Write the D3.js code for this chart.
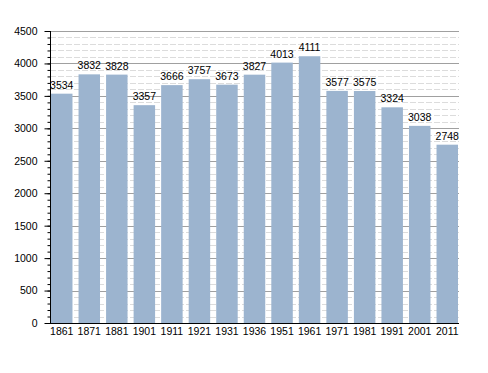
<!DOCTYPE html>
<html>
<head>
<meta charset="utf-8">
<script src="https://cdn.jsdelivr.net/npm/d3@7"></script>
<style>
  body { margin: 0; background: #fff; }
  svg text { font-family: "Liberation Sans", Arial, sans-serif; font-size: 10.5px; fill: #000; }
</style>
</head>
<body>
<div id="chart"></div>
<script>
// census years and population
var years = ["1861", "1871", "1881", "1901", "1911", "1921", "1931", "1936", "1951", "1961", "1971", "1981", "1991", "2001", "2011"];
var population = [3534, 3832, 3828, 3357, 3666, 3757, 3673, 3827, 4013, 4111, 3577, 3575, 3324, 3038, 2748];
var yTicks = [0, 500, 1000, 1500, 2000, 2500, 3000, 3500, 4000, 4500];

var width = 488, height = 373;
var plotLeft = 50, plotRight = 459, plotTop = 31, plotBottom = 323;

var svg = d3.select("#chart").append("svg")
    .attr("width", width)
    .attr("height", height);

var x = d3.scaleBand()
    .domain(years)
    .range([plotLeft + 1, plotRight - 1])
    .paddingInner(0.22)
    .paddingOuter(0);

var y = d3.scaleLinear()
    .domain([0, 4500])
    .range([plotBottom, plotTop]);

// minor grid every 100
svg.append("g").selectAll("line")
    .data(d3.range(100, 4600, 100).filter(function (d) { return d % 500 != 0; }))
    .enter().append("line")
    .attr("x1", plotLeft).attr("x2", plotRight)
    .attr("y1", function (d) { return Math.round(y(d)) + 0.5; })
    .attr("y2", function (d) { return Math.round(y(d)) + 0.5; })
    .attr("stroke", "#dcdcdc")
    .attr("stroke-dasharray", "6,2");

// major grid every 500
svg.append("g").selectAll("line")
    .data(yTicks.slice(1))
    .enter().append("line")
    .attr("x1", plotLeft).attr("x2", plotRight)
    .attr("y1", function (d) { return Math.round(y(d)) + 0.5; })
    .attr("y2", function (d) { return Math.round(y(d)) + 0.5; })
    .attr("stroke", "#a0a0a0");

// bars
svg.append("g").selectAll("rect")
    .data(population)
    .enter().append("rect")
    .attr("x", function (d, i) { return x(years[i]); })
    .attr("width", x.bandwidth())
    .attr("y", function (d) { return y(d); })
    .attr("height", function (d) { return plotBottom - y(d); })
    .attr("fill", "#9cb4cf");

// value labels
svg.append("g").selectAll("text")
    .data(population)
    .enter().append("text")
    .attr("x", function (d, i) { return x(years[i]) + x.bandwidth() / 2; })
    .attr("y", function (d) { return y(d) - 5; })
    .attr("text-anchor", "middle")
    .text(function (d) { return d; });

// y axis with minor ticks
var minorAxis = d3.axisLeft(y)
    .tickValues(d3.range(0, 4600, 100))
    .tickSize(3)
    .tickFormat("");
svg.append("g")
    .attr("transform", "translate(" + (plotLeft + 0.5) + ",0)")
    .call(minorAxis)
    .call(function (g) { g.select(".domain").remove(); });

var yAxis = d3.axisLeft(y)
    .tickValues(yTicks)
    .tickSize(6)
    .tickPadding(7)
    .tickFormat(d3.format("d"));
svg.append("g")
    .attr("transform", "translate(" + (plotLeft + 0.5) + ",0)")
    .call(yAxis)
    .call(function (g) {
        g.select(".domain").attr("d", "M0," + plotTop + "V" + plotBottom);
        g.selectAll("text").style("font-size", "10.5px").style("font-family", "Liberation Sans, Arial, sans-serif");
    });

// x axis
var xAxis = d3.axisBottom(x).tickSize(0).tickPadding(4);
svg.append("g")
    .attr("transform", "translate(0," + (plotBottom + 0.5) + ")")
    .call(xAxis)
    .call(function (g) {
        g.select(".domain").attr("d", "M" + plotLeft + ",0H" + plotRight);
        g.selectAll("text").style("font-size", "10.5px").style("font-family", "Liberation Sans, Arial, sans-serif");
    });
</script>
</body>
</html>
